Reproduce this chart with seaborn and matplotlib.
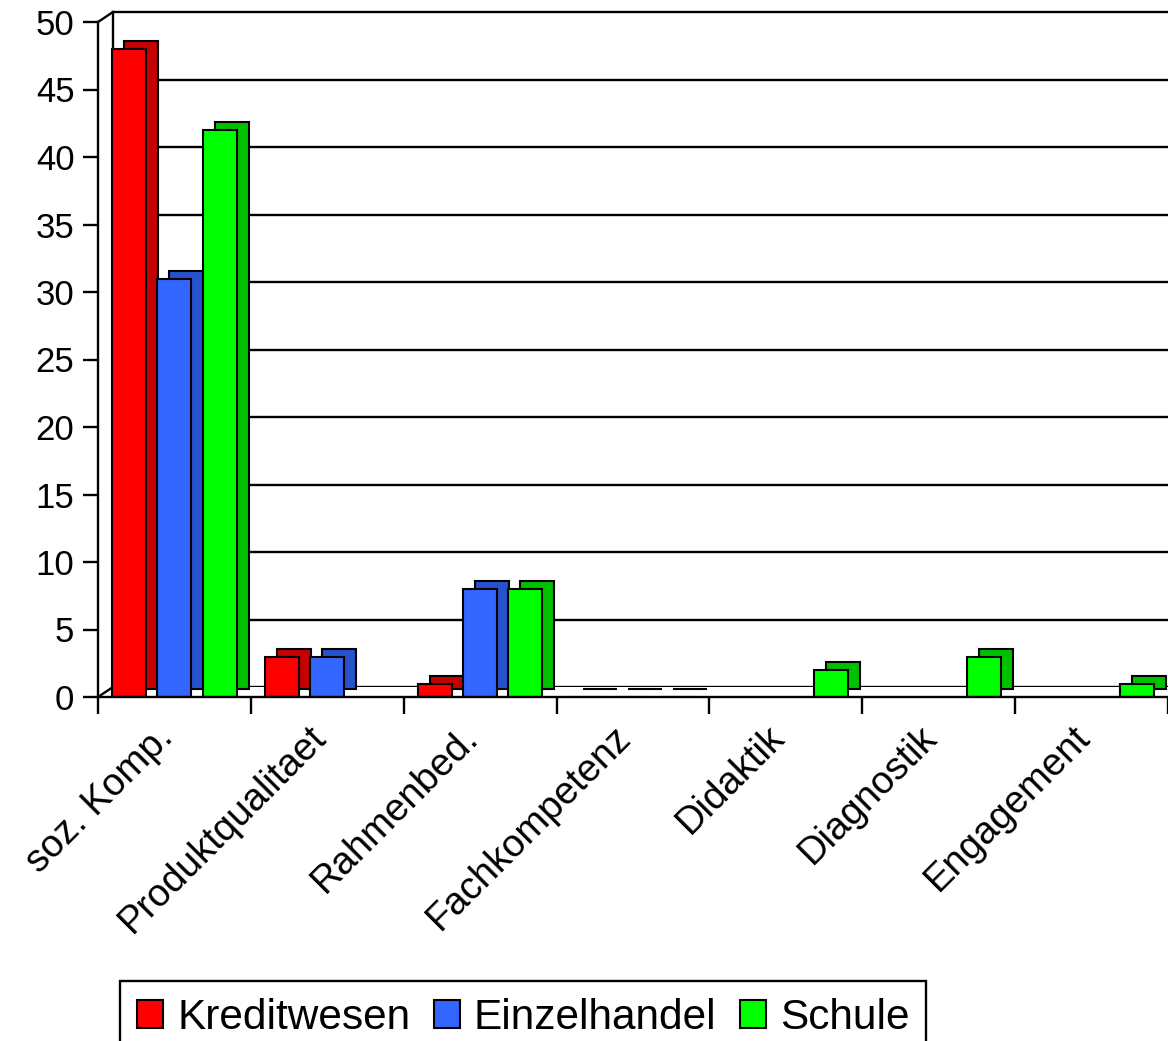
import numpy as np
import pandas as pd
import matplotlib
matplotlib.use("Agg")
import matplotlib.pyplot as plt
import matplotlib.transforms as mtransforms
from matplotlib.lines import Line2D
import seaborn as sns

# ---------------- data ----------------
categories = ["soz. Komp.", "Produktqualitaet", "Rahmenbed.", "Fachkompetenz",
              "Didaktik", "Diagnostik", "Engagement"]
series_names = ["Kreditwesen", "Einzelhandel", "Schule"]
kreditwesen = [48, 3, 1, 0, np.nan, np.nan, np.nan]
einzelhandel = [31, 3, 8, 0, np.nan, np.nan, np.nan]
schule = [42, np.nan, 8, 0, 2, 3, 1]
y_ticks = [0, 5, 10, 15, 20, 25, 30, 35, 40, 45, 50]

df = pd.DataFrame({
    "cat": categories * 3,
    "series": [series_names[0]] * 7 + [series_names[1]] * 7 + [series_names[2]] * 7,
    "value": kreditwesen + einzelhandel + schule,
})

front_colors = ["#FF0000", "#3366FF", "#00FF00"]
side_colors = ["#C40000", "#2652CC", "#00C000"]

# ---------------- style ----------------
sns.set_style("white")
plt.rcParams["font.family"] = ["Liberation Sans", "DejaVu Sans"]
plt.rcParams["text.color"] = "black"
plt.rcParams["xtick.color"] = "black"
plt.rcParams["ytick.color"] = "black"
plt.rcParams["axes.edgecolor"] = "black"

W, H, DPI = 1168, 1041, 100
fig = plt.figure(figsize=(W / DPI, H / DPI), dpi=DPI)

ax_l, ax_r = 98 / W, 1.0
ax_b, ax_t = (H - 697) / H, (H - 22) / H
depth_dx, depth_dy = 15, 10  # px (3D depth of the back wall)

# back wall (grid plane)
axb = fig.add_axes([ax_l + depth_dx / W, ax_b + depth_dy / H, ax_r - ax_l, ax_t - ax_b])
axb.set_ylim(0, 50)
axb.set_xlim(0, 1)
axb.set_xticks([])
axb.set_yticks([])
for yv in y_ticks[:-1]:
    axb.axhline(yv, color="black", lw=1.7, zorder=0)
for s in ["right", "bottom"]:
    axb.spines[s].set_visible(False)
for s in ["left", "top"]:
    axb.spines[s].set_linewidth(1.7)
axb.patch.set_alpha(0)

# front axes
ax = fig.add_axes([ax_l, ax_b, ax_r - ax_l, ax_t - ax_b], zorder=2)
ax.patch.set_alpha(0)

# depth (side + top) of bars: darker copy shifted back
sns.barplot(data=df, x="cat", y="value", hue="series", order=categories,
            hue_order=series_names, palette=side_colors, saturation=1,
            width=0.89, gap=0.25, edgecolor="black", linewidth=1.5,
            errorbar=None, legend=False, ax=ax)
n_shadow = len(ax.patches)
shift = mtransforms.ScaledTranslation(12 / DPI, 8 / DPI, fig.dpi_scale_trans)
for p in ax.patches[:n_shadow]:
    p.set_transform(ax.transData + shift)
    p.set_zorder(1)

# front faces
sns.barplot(data=df, x="cat", y="value", hue="series", order=categories,
            hue_order=series_names, palette=front_colors, saturation=1,
            width=0.89, gap=0.25, edgecolor="black", linewidth=1.5,
            errorbar=None, legend=True, ax=ax)
for p in ax.patches[n_shadow:]:
    p.set_zorder(2)

ax.set_xlim(-0.5, len(categories) - 0.5)
ax.set_ylim(0, 50)
ax.set_xlabel("")
ax.set_ylabel("")

ax.set_yticks(y_ticks)
ax.set_yticklabels([str(v) for v in y_ticks], fontsize=25)
ax.tick_params(axis="y", direction="out", length=11, width=1.7, pad=6, left=True)

# category boundaries as major ticks, labels at category centers
ax.set_xticks(np.arange(len(categories) + 1) - 0.5)
ax.set_xticklabels([])
ax.set_xticks(np.arange(len(categories)), minor=True)
ax.set_xticklabels(categories, minor=True, rotation=45, ha="right",
                   va="baseline", rotation_mode="anchor", fontsize=27.5)
ax.tick_params(axis="x", which="major", direction="out", length=12, width=1.7, bottom=True)
ax.tick_params(axis="x", which="minor", length=0, pad=30, bottom=True)

for s in ["top", "right"]:
    ax.spines[s].set_visible(False)
for s in ["left", "bottom"]:
    ax.spines[s].set_linewidth(1.7)

# 3D corner diagonals
for fy in (ax_b, ax_t):
    fig.add_artist(Line2D([ax_l, ax_l + depth_dx / W], [fy, fy + depth_dy / H],
                          transform=fig.transFigure, color="black", lw=1.7))

# legend
sns.move_legend(ax, "upper left", bbox_to_anchor=(120 / W, (H - 981) / H),
                bbox_transform=fig.transFigure, ncol=3, title=None, frameon=True,
                fontsize=30.5, handlelength=0.62, handleheight=0.62,
                handletextpad=0.33, columnspacing=0.55, borderpad=0.4,
                fancybox=False, framealpha=1, edgecolor="black", borderaxespad=0)
leg = ax.get_legend()
leg.get_frame().set_linewidth(1.7)
for h in leg.legend_handles:
    h.set_edgecolor("black")
    h.set_linewidth(1.5)

fig.savefig("out.png", dpi=DPI)
